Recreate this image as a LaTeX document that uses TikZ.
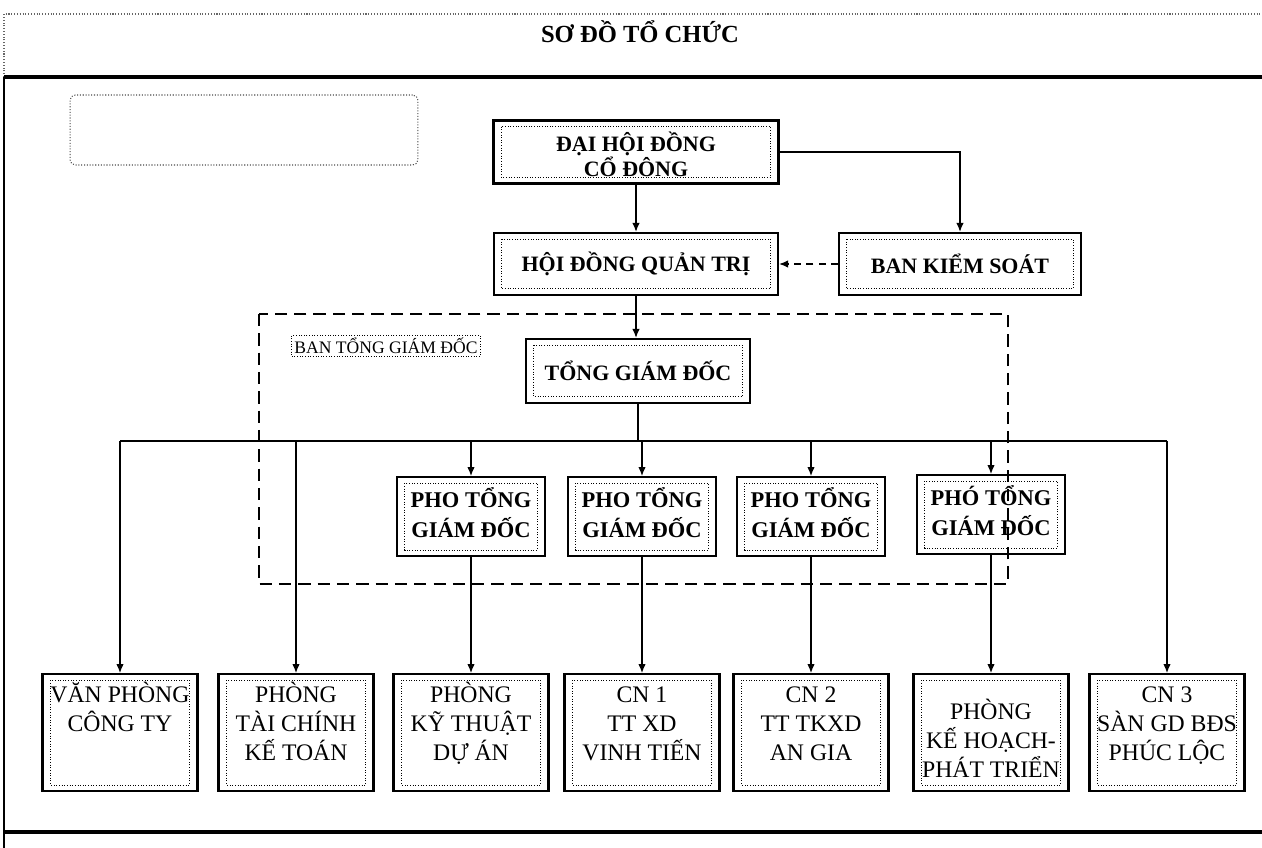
\documentclass[tikz,border=0pt]{standalone}
\usepackage{fontspec}
\setmainfont{Liberation Serif}
\usetikzlibrary{calc, arrows.meta}

\tikzset{
  khung/.style={draw, line width=1.3pt, inner sep=0pt, align=center,
    path picture={\draw[densely dotted, line width=0.5pt]
      ([shift={(4.5pt,-3.5pt)}]path picture bounding box.north west) rectangle
      ([shift={(-4.5pt,3.5pt)}]path picture bounding box.south east);}},
  caplon/.style={khung, font=\bfseries\fontsize{12.5}{14}\selectfont},
  phopho/.style={khung, anchor=north, font=\bfseries\fontsize{12.8}{17}\selectfont,
    minimum width=2.96cm, text height=1.2cm, text depth=0.38cm},
  phong/.style={khung, anchor=north, font=\fontsize{13.5}{16.5}\selectfont,
    minimum width=3.1cm, text height=1.72cm, text depth=0.62cm},
  muiten/.style={-{Latex[length=1.8mm,width=1.5mm]}, line width=0.7pt},
}

\begin{document}
\begin{tikzpicture}[x=0.02cm, y=-0.02cm, line width=0.7pt]
    \useasboundingbox (0,0) rectangle (1262,848);
    %ページの枠
    \draw[densely dotted, black!60, line width=0.6pt] (4,77)--(4,14)--(1262,14);
    \draw[line width=2pt] (4,77)--(1262,77);
    \draw[line width=1pt] (4,77)--(4,848);
    \draw[line width=2pt] (4,832)--(1262,832);
    \node[font=\bfseries\fontsize{14}{16}\selectfont] (tieude) at (640,32) {SƠ ĐỒ TỔ CHỨC};
    \node[draw, densely dotted, black!70, line width=0.6pt, rounded corners=3pt,
      minimum width=6.96cm, minimum height=1.4cm] (ghichu) at (244,130) {};
    %上の三つの箱
    \node[caplon, minimum width=5.7cm, text height=1.12cm, text depth=0.14cm] (dhdcd) at (636,152) {ĐẠI HỘI ĐỒNG\\CỔ ĐÔNG};
    \node[caplon, minimum width=5.68cm, minimum height=1.24cm] (hdqt) at (636,264) {HỘI ĐỒNG QUẢN TRỊ};
    \node[caplon, minimum width=4.84cm, minimum height=1.24cm] (bks) at (960,264) {BAN KIỂM SOÁT};
    \draw[muiten] (dhdcd)--(hdqt);
    \draw[muiten] (dhdcd.east) -| (bks.north);
    \draw[muiten, dash pattern=on 4pt off 3pt] (bks.west)--(hdqt.east);
    %ban tổng giám đốc の破線の枠
    \draw[dash pattern=on 7pt off 4pt, line width=0.8pt] (259,314) rectangle (1008,584);
    \node[draw, densely dotted, line width=0.5pt, inner sep=1.5pt,
      font=\fontsize{10}{12}\selectfont] (bantgd) at (386,346) {BAN TỔNG GIÁM ĐỐC};
    \node[caplon, minimum width=4.48cm, minimum height=1.28cm] (tgd) at (638,371) {TỔNG GIÁM ĐỐC};
    \draw[muiten] (hdqt.south)--(hdqt.south |- tgd.north);
    %副社長
    \node[phopho] (pt1) at (471,476) {PHO TỔNG\\GIÁM ĐỐC};
    \node[phopho] (pt2) at (642,476) {PHO TỔNG\\GIÁM ĐỐC};
    \node[phopho] (pt3) at (811,476) {PHO TỔNG\\GIÁM ĐỐC};
    \node[phopho] (pt4) at (991,474) {PHÓ TỔNG\\GIÁM ĐỐC};
    %下の部署
    \node[phong, text height=1.14cm, text depth=1.2cm] (vp) at (120,673) {VĂN PHÒNG\\CÔNG TY};
    \node[phong] (tc) at (296,673) {PHÒNG\\TÀI CHÍNH\\KẾ TOÁN};
    \node[phong] (kt) at (471,673) {PHÒNG\\KỸ THUẬT\\DỰ ÁN};
    \node[phong] (cn1) at (642,673) {CN 1\\TT XD\\VINH TIẾN};
    \node[phong] (cn2) at (811,673) {CN 2\\TT TKXD\\AN GIA};
    \node[phong, text height=2.06cm, text depth=0.28cm] (kh) at (991,673) {PHÒNG\\KẾ HOẠCH-\\PHÁT TRIỂN};
    \node[phong] (cn3) at (1167,673) {CN 3\\SÀN GD BĐS\\PHÚC LỘC};
    %横の線
    \coordinate (bus) at (0,441);
    \draw (tgd.south)--(tgd.south |- bus);
    \draw (vp.north |- bus)--(cn3.north |- bus);
    \foreach \n in {vp,tc,pt1,pt2,pt3,pt4,cn3}
      \draw[muiten] (\n.north |- bus)--(\n.north);
    \foreach \a/\b in {pt1/kt,pt2/cn1,pt3/cn2,pt4/kh}
      \draw[muiten] (\a.south)--(\a.south |- \b.north);
  \end{tikzpicture}
\end{document}
